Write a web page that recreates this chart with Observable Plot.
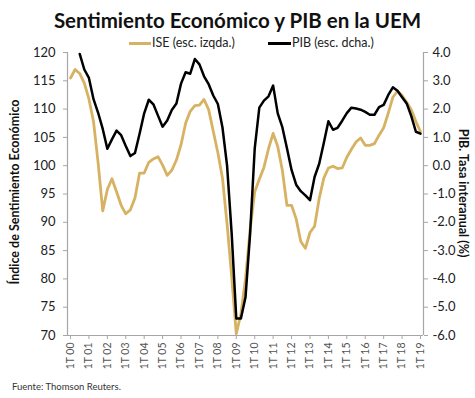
<!DOCTYPE html>
<html><head><meta charset="utf-8">
<script src="https://cdn.jsdelivr.net/npm/d3@7"></script>
<script src="https://cdn.jsdelivr.net/npm/@observablehq/plot@0.6"></script>
<style>
body{margin:0;background:#fff;}
#wrap{position:relative;width:475px;height:398px;font-family:Lato,"Open Sans",sans-serif;color:#111;overflow:hidden;}
#title{position:absolute;left:0;width:475px;top:7px;text-align:center;font-weight:bold;font-size:20.5px;line-height:26px;z-index:2;}
.leg{position:absolute;top:35px;font-size:12.5px;line-height:16px;color:#222;white-space:nowrap;z-index:2;}
.sw{position:absolute;height:2.6px;top:42px;z-index:2;}
#chart{position:absolute;left:0;top:38px;z-index:1;}
.ylab{position:absolute;font-weight:bold;font-size:12.5px;white-space:nowrap;line-height:14px;}
#cap{position:absolute;left:12px;top:381px;font-size:9.5px;color:#333;}
</style></head>
<body><div id="wrap">
<div id="chart"></div>
<div id="title">Sentimiento Económico y PIB en la UEM</div>
<div class="sw" style="left:129px;width:22px;background:#D6B262"></div>
<div class="leg" style="left:152px">ISE (esc. izqda.)</div>
<div class="sw" style="left:268px;width:23px;background:#000"></div>
<div class="leg" style="left:292px">PIB (esc. dcha.)</div>
<div class="ylab" id="ylabL">Índice de Sentimiento Económico</div>
<div class="ylab" id="ylabR">PIB. Tasa interanual (%)</div>
<div id="cap">Fuente: Thomson Reuters.</div>
</div>
<script>
// Trimestres desde 1T 2000 hasta 1T 2019
const tickLabels = ["1T 00","1T 01","1T 02","1T 03","1T 04","1T 05","1T 06","1T 07","1T 08","1T 09","1T 10","1T 11","1T 12","1T 13","1T 14","1T 15","1T 16","1T 17","1T 18","1T 19"];
const leftTicks = [70,75,80,85,90,95,100,105,110,115,120];
const rightTicks = [-6,-5,-4,-3,-2,-1,0,1,2,3,4];

// ISE (escala izquierda), trimestral
const ise = [
115.5,117.0,116.3,114.6,111.8,107.8,100.5,92.0,95.8,97.7,
95.4,93.0,91.5,92.2,94.3,98.7,98.7,100.6,101.2,101.6,
100.1,98.3,99.2,101.0,103.7,107.5,109.6,110.6,110.7,111.7,
109.9,106.1,102.3,97.8,89.7,80.4,70.3,73.8,80.0,88.7,
95.4,97.6,99.7,103.0,105.7,103.4,99.2,93.0,93.0,90.6,
86.6,85.4,88.2,89.3,94.2,97.8,99.6,99.9,99.5,99.6,
101.5,102.9,104.2,104.9,103.6,103.6,103.9,105.4,106.7,109.3,
112.1,113.2,112.4,111.2,109.9,107.8,106.0
];
// PIB tasa interanual (%) (escala derecha), trimestral
const pib = [
null,null,3.95,3.40,3.10,2.35,1.87,1.30,0.60,0.93,
1.24,1.08,0.70,0.34,0.45,1.13,1.85,2.33,2.17,1.77,
1.38,1.60,1.97,2.20,2.90,3.30,3.25,3.77,3.58,3.16,
2.88,2.48,2.18,1.35,0.00,-2.40,-5.40,-5.40,-4.65,-2.40,
0.60,2.05,2.30,2.45,2.83,1.85,1.36,0.62,-0.15,-0.67,
-0.90,-1.05,-1.22,-0.40,0.07,0.80,1.57,1.27,1.34,1.59,
1.86,2.05,2.02,1.98,1.90,1.80,1.80,2.07,2.15,2.50,
2.77,2.65,2.42,2.20,1.75,1.20,1.13
];

const toLeft = p => 70 + (p + 6) * 5;
const fromLeft = v => (v - 70) / 5 - 6;
const data = ise.map((v, i) => ({i, ise: v, pib: pib[i] == null ? null : toLeft(pib[i])}));
const xDomain = [-0.65, ise.length - 1 + 0.65];
const xTicks = tickLabels.map((_, k) => k * 4);
const axisColor = "#a6a6a6";

const chart = Plot.plot({
  width: 475, height: 342,
  marginTop: 14, marginBottom: 45, marginLeft: 67, marginRight: 52,
  x: {type: "linear", domain: xDomain},
  y: {domain: [70, 120]},
  style: {fontFamily: "Lato, sans-serif", fontSize: "13px", color: "#222", background: "transparent"},
  marks: [
    Plot.ruleY([70], {stroke: axisColor, strokeWidth: 1.2}),
    Plot.ruleX([xDomain[0]], {stroke: axisColor, strokeWidth: 1.2}),
    Plot.ruleX([xDomain[1]], {stroke: axisColor, strokeWidth: 1.2}),
    Plot.axisY({anchor: "left", ticks: leftTicks, tickSize: 4, tickPadding: 8, stroke: axisColor, label: null, fontSize: 13, tickFormat: d => String(d)}),
    Plot.axisY({anchor: "right", ticks: rightTicks.map(toLeft), tickSize: 4, tickPadding: 5, stroke: axisColor, label: null, fontSize: 13, tickFormat: d => fromLeft(d).toFixed(1)}),
    Plot.axisX({ticks: xTicks, tickFormat: d => tickLabels[Math.round(d / 4)], tickRotate: -90, tickSize: 4, tickPadding: 3, stroke: axisColor, fill: "#555", label: null, fontSize: 10.5}),
    Plot.lineY(data, {x: "i", y: "ise", stroke: "#D6B262", strokeWidth: 2.8, curve: "linear"}),
    Plot.lineY(data, {x: "i", y: "pib", stroke: "#000", strokeWidth: 2.5, curve: "linear"})
  ]
});
document.getElementById("chart").appendChild(chart);

// y labels positioned/rotated
const L = document.getElementById("ylabL");
L.style.left = "15px"; L.style.top = "192px";
L.style.transform = "translate(-50%,-50%) rotate(-90deg)";
const R = document.getElementById("ylabR");
R.style.left = "463px"; R.style.top = "193px";
R.style.transform = "translate(-50%,-50%) rotate(90deg)";
</script>
</body></html>
